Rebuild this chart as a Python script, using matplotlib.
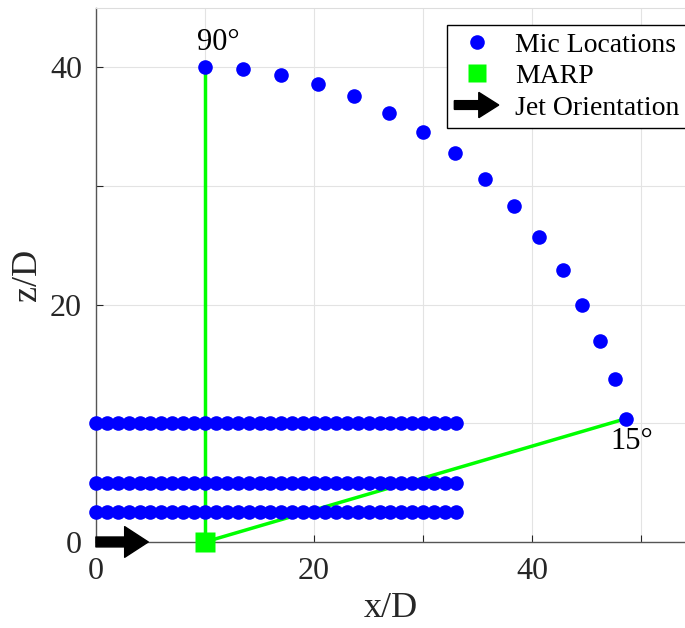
import matplotlib.pyplot as plt
from matplotlib.lines import Line2D
from matplotlib.patches import Patch, FancyArrow, ArrowStyle
from matplotlib.legend_handler import HandlerPatch

plt.rcParams['font.family'] = ['Liberation Serif', 'DejaVu Serif']

# far-field arc, 90 deg down to 15 deg in 5 deg steps
arc_x = [10.0, 13.5, 17.0, 20.4, 23.7, 26.9, 30.0, 32.9,
         35.7, 38.3, 40.6, 42.8, 44.6, 46.2, 47.6, 48.6]
arc_z = [40.0, 39.9, 39.4, 38.6, 37.6, 36.2, 34.6, 32.8,
         30.6, 28.3, 25.7, 22.9, 20.0, 16.9, 13.7, 10.4]

# near-field linear arrays
row_x = list(range(0, 34))
row_z = [10, 5, 2.5]

marp = (10, 0)
jet_len = 4.8

BLUE = '#0000ff'
GREEN = '#00ff00'
AX_COL = '#262626'
MS = 10.5

fig = plt.figure(figsize=(6.85, 6.28), dpi=100)
ax = fig.add_axes([0.140, 0.137, 0.860, 0.850])

# lines from MARP to the two end angles
ax.plot([marp[0], arc_x[0]], [marp[1], arc_z[0]], color=GREEN, lw=2.5, zorder=2)
ax.plot([marp[0], arc_x[-1]], [marp[1], arc_z[-1]], color=GREEN, lw=2.5, zorder=2)

ax.plot(arc_x, arc_z, 'o', color=BLUE, ms=MS, mec='none', zorder=3, clip_on=False)
for z in row_z:
    ax.plot(row_x, [z] * len(row_x), 'o', color=BLUE, ms=MS, mec='none', zorder=3, clip_on=False)

ax.plot(*marp, 's', color=GREEN, ms=14, mec='none', zorder=4, clip_on=False)

ax.annotate('', xy=(jet_len, 0), xytext=(0, 0), zorder=5, annotation_clip=False,
            arrowprops=dict(arrowstyle=ArrowStyle.Simple(head_length=1.0, head_width=1.3, tail_width=0.42),
                            mutation_scale=17, color='black', shrinkA=0, shrinkB=0, clip_on=False))

ax.text(arc_x[0] + 1.2, arc_z[0] + 0.9, '90°', fontsize=22, ha='center', va='bottom', color='black')
ax.text(arc_x[-1] + 0.5, arc_z[-1] - 0.7, '15°', fontsize=22, ha='center', va='top', color='black')

ax.set_xlim(0, 54)
ax.set_ylim(0, 45)
ax.set_xticks([0, 10, 20, 30, 40, 50])
ax.set_xticklabels(['0', '', '20', '', '40', ''])
ax.set_yticks([0, 10, 20, 30, 40])
ax.set_yticklabels(['0', '', '20', '', '40'])
ax.tick_params(direction='in', length=5, width=0.8, colors=AX_COL, labelsize=23)
ax.tick_params(axis='x', pad=11)
ax.tick_params(axis='y', pad=10)
ax.grid(True, color='#e3e3e3', lw=0.8, zorder=0)
ax.set_axisbelow(True)
for s in ['left', 'bottom']:
    ax.spines[s].set_color('#555555')
    ax.spines[s].set_linewidth(1.0)
ax.spines['top'].set_color('#dddddd')
ax.spines['right'].set_visible(False)

ax.set_xlabel('x/D', fontsize=26, color=AX_COL, labelpad=4)
ax.set_ylabel('z/D', fontsize=26, color=AX_COL, labelpad=4)


def make_arrow(legend, orig_handle, xdescent, ydescent, width, height, fontsize):
    return FancyArrow(0, 0.5 * height, width, 0, width=0.45 * height,
                      head_width=1.3 * height, head_length=0.45 * width,
                      length_includes_head=True, color='black')


handles = [
    Line2D([], [], ls='none', marker='o', color=BLUE, ms=MS, mec='none'),
    Line2D([], [], ls='none', marker='s', color=GREEN, ms=13, mec='none'),
    Patch(color='black'),
]
leg = ax.legend(handles, ['Mic Locations', 'MARP', 'Jet Orientation'],
                loc='upper right', bbox_to_anchor=(1.003, 0.968), fontsize=20,
                frameon=True, fancybox=False, framealpha=1, edgecolor='black',
                handlelength=1.6, handletextpad=0.6, borderpad=0.25, labelspacing=0.22,
                borderaxespad=0.0,
                handler_map={Patch: HandlerPatch(patch_func=make_arrow)})
leg.get_frame().set_linewidth(1.0)

fig.savefig('out.png', dpi=100)
